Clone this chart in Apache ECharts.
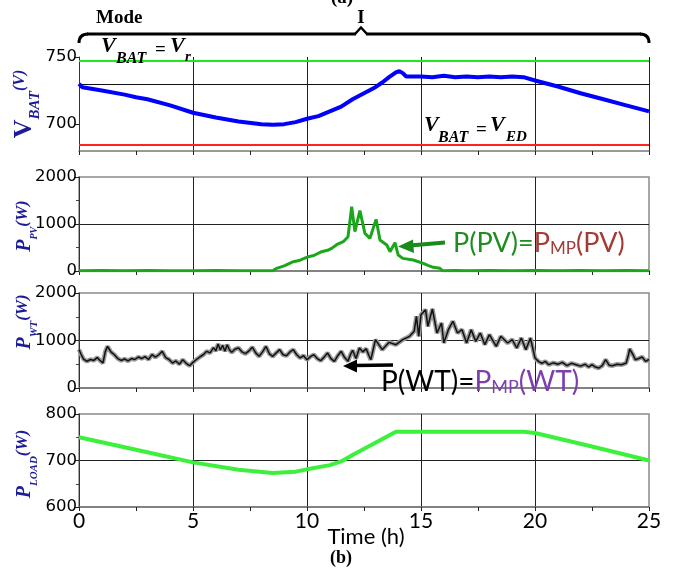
<!DOCTYPE html>
<html>
<head>
<meta charset="utf-8">
<script src="https://cdn.jsdelivr.net/npm/echarts@6/dist/echarts.min.js"></script>
<style>html,body{margin:0;padding:0;background:#fff;}#chart{width:674px;height:572px;}</style>
</head>
<body>
<div id="chart"></div>
<script>
// ---- data ----
const xTickLabels = [0, 5, 10, 15, 20, 25];
const vbatLabels = [700, 750];
const vbatRefLines = [747.5, 684.5]; // V_r (green), V_ED (red)
const vbatGridLine = [730];

const vbatTime = [0,0.15,1,2,2.5,3,4,5,6,7,8,8.5,9,9.5,10,10.5,11,11.5,12,12.5,13,13.3,13.6,13.9,14.05,14.2,14.35,15,15.5,16,16.5,17,17.5,18,18.5,19,19.5,20,21,22,23,24,25];
const vbatValues = [730,727.5,725,722,720,718.5,714,708.5,705,702,700,699.5,700,701.5,704,706,709.5,713,718.5,723,727.5,731,735,738.5,739.5,738,735.5,735.5,735,736,735,735.5,735,735.5,735,735.5,735,732.5,728,723,718.5,714,709.5];

const pvTime = [0,1,2,3,4,5,6,7,8,8.5,8.67,9,9.4,9.7,10.06,10.3,10.64,10.9,11.08,11.3,11.59,11.8,11.96,12.1,12.32,12.54,12.76,13.03,13.2,13.5,13.64,13.86,14.0,14.2,14.66,15.1,15.3,15.54,15.83,15.95,16.5,17,18,19,20,21,22,23,24,25];
const pvValues = [5,8,5,10,6,5,8,5,6,5,57,110,198,230,305,330,411,440,482,560,624,730,1369,837,1284,801,695,1099,660,553,411,603,340,269,234,163,120,78,57,5,8,5,10,6,8,5,10,6,8,5];

const wtTime = [0,0.1,0.2,0.35,0.5,0.65,0.8,0.9,1.05,1.15,1.25,1.4,1.55,1.7,1.85,2.0,2.15,2.3,2.45,2.6,2.75,2.9,3.05,3.2,3.35,3.5,3.65,3.8,3.95,4.1,4.25,4.4,4.55,4.7,4.85,5.0,5.15,5.3,5.45,5.6,5.75,5.9,6.0,6.1,6.2,6.3,6.4,6.5,6.6,6.7,6.85,7.0,7.15,7.3,7.45,7.6,7.75,7.9,8.05,8.2,8.35,8.5,8.65,8.8,8.95,9.1,9.25,9.4,9.55,9.7,9.85,10.0,10.15,10.3,10.45,10.6,10.75,10.9,11.05,11.2,11.35,11.5,11.65,11.8,11.9,12.0,12.15,12.3,12.45,12.6,12.7,12.8,12.9,
  13.0,13.3,13.6,13.9,14.2,14.5,14.7,14.8,14.9,15.0,15.2,15.3,15.5,15.7,15.9,16.0,16.2,16.4,16.6,16.8,17.0,17.2,17.4,17.6,17.8,18.0,18.3,18.5,18.8,19.0,19.2,19.4,19.6,19.8,
  20.0,20.15,20.3,20.45,20.6,20.8,21.0,21.2,21.4,21.6,21.8,22.0,22.2,22.35,22.5,22.65,22.8,22.95,23.1,23.25,23.4,23.6,23.8,24.0,24.1,24.15,24.3,24.4,24.55,24.7,24.85,25];
const wtValues = [807,700,610,561,600,580,640,590,526,760,877,760,700,620,580,610,570,620,600,653,620,660,600,702,650,700,772,640,600,526,570,500,596,520,470,540,600,653,700,772,740,850,780,926,800,900,772,912,800,751,820,842,760,723,780,860,740,667,760,877,720,667,740,807,700,681,760,807,700,632,680,596,660,702,620,575,650,737,620,561,680,772,640,561,700,793,620,842,760,828,700,596,800,
  1017,807,961,912,1017,1088,1193,1509,1088,1544,1649,1298,1663,1158,1368,947,1228,1404,1158,1228,947,1228,982,1158,912,1123,877,1088,947,1017,842,1053,807,1053,
  632,560,520,560,491,530,500,540,470,520,491,460,500,442,491,440,421,470,596,480,470,500,491,526,700,821,700,596,620,653,560,600];

const loadTime = [0,2.5,5,7,8.5,9.5,10,11,11.5,12,13,13.9,19.5,20,22.5,25];
const loadValues = [750,723,696,680,673,676,681,690,698,712,738,762,762,759,730,700];

const zip = (t, v) => t.map((x, i) => [x, v[i]]);

// ---- layout ----
const tops = [57, 177, 293, 414];
const heights = [94, 94, 95, 93];
const tickFont = { fontFamily: 'DejaVu Sans, sans-serif', fontSize: 16.5, color: '#000' };
const plain = v => String(v);

const grids = tops.map((t, i) => ({
  left: 79, width: 570, top: t, height: heights[i],
  show: i > 0, borderColor: '#8a8a8a', borderWidth: 1.5, containLabel: false
}));

const xAxes = tops.map((t, i) => ({
  type: 'value', gridIndex: i, min: 0, max: 25, interval: 5,
  axisLine: { show: true, onZero: false, lineStyle: { color: '#777', width: 1.5 } },
  axisTick: { show: true, length: 4, lineStyle: { color: '#222' } },
  minorTick: { show: true, splitNumber: 2, length: 4, lineStyle: { color: '#222' } },
  splitLine: { show: true, showMinLine: false, showMaxLine: i === 0,
    lineStyle: { color: i === 0 ? ['#222','#222','#222','#222','#222','#8a8a8a'] : '#222', width: 1 } },
  axisLabel: { show: i === 3, fontFamily: 'Lato, sans-serif', fontSize: 21, color: '#000', margin: 4,
    customValues: xTickLabels, formatter: plain }
}));

const yCommon = {
  type: 'value',
  axisLine: { show: true, lineStyle: { color: '#333', width: 1 } },
  axisTick: { show: true, length: 4, lineStyle: { color: '#222' } },
  axisLabel: Object.assign({ margin: 2, formatter: plain }, tickFont),
  splitLine: { show: true, showMinLine: false, showMaxLine: false, lineStyle: { color: '#222', width: 1 } }
};
const yAxes = [
  Object.assign({}, yCommon, { gridIndex: 0, min: 680, max: 750, interval: 10,
    axisLabel: Object.assign({ margin: 2, customValues: vbatLabels, formatter: plain }, tickFont),
    axisTick: { show: true, length: 4, customValues: vbatLabels, lineStyle: { color: '#222' } },
    splitLine: { show: false } }),
  Object.assign({}, yCommon, { gridIndex: 1, min: 0, max: 2000, interval: 1000,
    minorTick: { show: true, splitNumber: 2, length: 3, lineStyle: { color: '#444' } } }),
  Object.assign({}, yCommon, { gridIndex: 2, min: 0, max: 2000, interval: 1000,
    minorTick: { show: true, splitNumber: 2, length: 3, lineStyle: { color: '#444' } } }),
  Object.assign({}, yCommon, { gridIndex: 3, min: 600, max: 800, interval: 100,
    minorTick: { show: true, splitNumber: 2, length: 3, lineStyle: { color: '#444' } } })
];

const lineBase = { type: 'line', showSymbol: false, symbol: 'none', silent: true };

const series = [
  Object.assign({}, lineBase, {
    xAxisIndex: 0, yAxisIndex: 0, data: zip(vbatTime, vbatValues), z: 5,
    lineStyle: { color: '#0000ff', width: 4 },
    markLine: { silent: true, symbol: 'none', label: { show: false }, animation: false,
      data: [
        { yAxis: vbatRefLines[0], lineStyle: { color: '#1ee81e', width: 2, type: 'solid' } },
        { yAxis: vbatRefLines[1], lineStyle: { color: '#ff2222', width: 2, type: 'solid' } },
        { yAxis: vbatGridLine[0], lineStyle: { color: '#111', width: 1, type: 'solid' } }
      ] }
  }),
  Object.assign({}, lineBase, {
    xAxisIndex: 1, yAxisIndex: 1, data: zip(pvTime, pvValues), z: 5,
    lineStyle: { color: '#1aa81a', width: 3 }
  }),
  Object.assign({}, lineBase, {
    xAxisIndex: 2, yAxisIndex: 2, data: zip(wtTime, wtValues), z: 4,
    lineStyle: { color: '#999', width: 4.5 }
  }),
  Object.assign({}, lineBase, {
    xAxisIndex: 2, yAxisIndex: 2, data: zip(wtTime, wtValues), z: 5,
    lineStyle: { color: '#111', width: 1.5 }
  }),
  Object.assign({}, lineBase, {
    xAxisIndex: 3, yAxisIndex: 3, data: zip(loadTime, loadValues), z: 5,
    lineStyle: { color: '#3cf03c', width: 4 }
  })
];

// ---- annotations ----
const serifB = 'Liberation Serif, Times New Roman, serif';
const navy = '#1c1c96';
function t(x, y, text, size, opts) {
  return { type: 'text', x: x, y: y, z: 100, style: Object.assign({
    text: text, fontSize: size, fontFamily: serifB, fontWeight: 'bold', fill: '#000',
    textAlign: 'left', textVerticalAlign: 'middle' }, opts || {}) };
}
const bi = { fontStyle: 'italic' };
function axisName(y, main, sub, subSize, mainSize, mainItalic) {
  return { type: 'text', x: 27, y: y, rotation: Math.PI / 2, z: 100, style: {
    text: '{a|' + main + '}{b|' + sub + '}{c|(' + (main === 'V' ? 'V' : 'W') + ')}',
    textAlign: 'center', textVerticalAlign: 'middle',
    rich: {
      a: { fontSize: mainSize, fontFamily: serifB, fontWeight: 'bold', fontStyle: mainItalic ? 'italic' : 'normal', fill: navy, lineHeight: mainSize + 5, verticalAlign: 'top' },
      b: { fontSize: subSize, fontFamily: serifB, fontWeight: 'bold', fontStyle: 'italic', fill: navy, lineHeight: subSize, verticalAlign: 'bottom' },
      c: { fontSize: main === 'V' ? 16 : 17, fontFamily: serifB, fontWeight: 'bold', fontStyle: 'italic', fill: navy, lineHeight: 22, verticalAlign: 'top' }
    } } };
}
const graphics = [
  // brace
  { type: 'bezierCurve', z: 100, shape: { x1: 79, y1: 43, x2: 88, y2: 34, cpx1: 79, cpy1: 34 }, style: { stroke: '#000', lineWidth: 3, fill: null } },
  { type: 'line', z: 100, shape: { x1: 87, y1: 34, x2: 356, y2: 34 }, style: { stroke: '#000', lineWidth: 3 } },
  { type: 'polyline', z: 100, shape: { points: [[355, 34], [361, 27.5], [367, 34]] }, style: { stroke: '#000', lineWidth: 2.5, fill: null } },
  { type: 'line', z: 100, shape: { x1: 366, y1: 34, x2: 641, y2: 34 }, style: { stroke: '#000', lineWidth: 3 } },
  { type: 'bezierCurve', z: 100, shape: { x1: 640, y1: 34, x2: 649, y2: 43, cpx1: 649, cpy1: 34 }, style: { stroke: '#000', lineWidth: 3, fill: null } },
  t(342, -2, '(a)', 19, { textAlign: 'center' }),
  t(96, 18, 'Mode', 19),
  t(361, 18, 'I', 19, { textAlign: 'center' }),
  // V_BAT = V_r
  t(101, 46, 'V', 22, bi), t(116, 59, 'BAT', 16, bi), t(155, 50, '=', 19), t(170, 46, 'V', 22, bi), t(185, 57, 'r', 15, bi),
  // V_BAT = V_ED
  t(424, 125.5, 'V', 22, bi), t(438, 138, 'BAT', 16, bi), t(476, 130, '=', 19), t(490, 125.5, 'V', 22, bi), t(506, 137.5, 'ED', 15, bi),
  // axis names (rotated)
  axisName(104, 'V', 'BAT', 15, 26, false),
  axisName(226, 'P', 'PV', 10, 20, true),
  axisName(322, 'P', 'WT', 11, 20, true),
  axisName(464, 'P', 'LOAD', 11, 20, true),
  // PV annotation
  { type: 'text', x: 453, y: 242, z: 100, style: {
    text: '{g|P(PV)=}{r|P}{s|MP}{r|(PV)}', textAlign: 'left', textVerticalAlign: 'middle',
    rich: {
      g: { fontSize: 27, fontFamily: 'Lato, sans-serif', fill: '#1e8c1e', lineHeight: 30, verticalAlign: 'bottom' },
      r: { fontSize: 27, fontFamily: 'Lato, sans-serif', fill: '#a33b36', lineHeight: 30, verticalAlign: 'bottom' },
      s: { fontSize: 17, fontFamily: 'Lato, sans-serif', fill: '#a33b36', lineHeight: 22, verticalAlign: 'bottom' }
    } } },
  { type: 'line', z: 100, shape: { x1: 445, y1: 242.5, x2: 410, y2: 245.5 }, style: { stroke: '#1a8a1a', lineWidth: 4 } },
  { type: 'polygon', z: 100, shape: { points: [[398, 246.5], [413, 239.5], [414, 253]] }, style: { fill: '#1a8a1a' } },
  // WT annotation
  { type: 'text', x: 381, y: 380, z: 100, style: {
    text: '{k|P(WT)=}{p|P}{s|MP}{p|(WT)}', textAlign: 'left', textVerticalAlign: 'middle',
    rich: {
      k: { fontSize: 28, fontFamily: 'Lato, sans-serif', fill: '#000', lineHeight: 32, verticalAlign: 'bottom' },
      p: { fontSize: 28, fontFamily: 'Lato, sans-serif', fill: '#7e3fae', lineHeight: 32, verticalAlign: 'bottom' },
      s: { fontSize: 18, fontFamily: 'Lato, sans-serif', fill: '#7e3fae', lineHeight: 24, verticalAlign: 'bottom' }
    } } },
  { type: 'line', z: 100, shape: { x1: 393, y1: 365, x2: 354, y2: 365.5 }, style: { stroke: '#000', lineWidth: 3.5 } },
  { type: 'polygon', z: 100, shape: { points: [[343, 366], [357, 359.5], [357, 372.5]] }, style: { fill: '#000' } },
  // x-axis title and caption
  { type: 'text', x: 366, y: 537, z: 100, style: { text: 'Time (h)', fontSize: 22, fontFamily: 'Lato, sans-serif', fill: '#000', textAlign: 'center', textVerticalAlign: 'middle' } },
  t(341, 558, '(b)', 18, { textAlign: 'center' })
];

const chart = echarts.init(document.getElementById('chart'), null, { renderer: 'canvas' });
chart.setOption({
  animation: false,
  backgroundColor: '#fff',
  grid: grids,
  xAxis: xAxes,
  yAxis: yAxes,
  series: series,
  graphic: { elements: graphics }
});
</script>
</body>
</html>
